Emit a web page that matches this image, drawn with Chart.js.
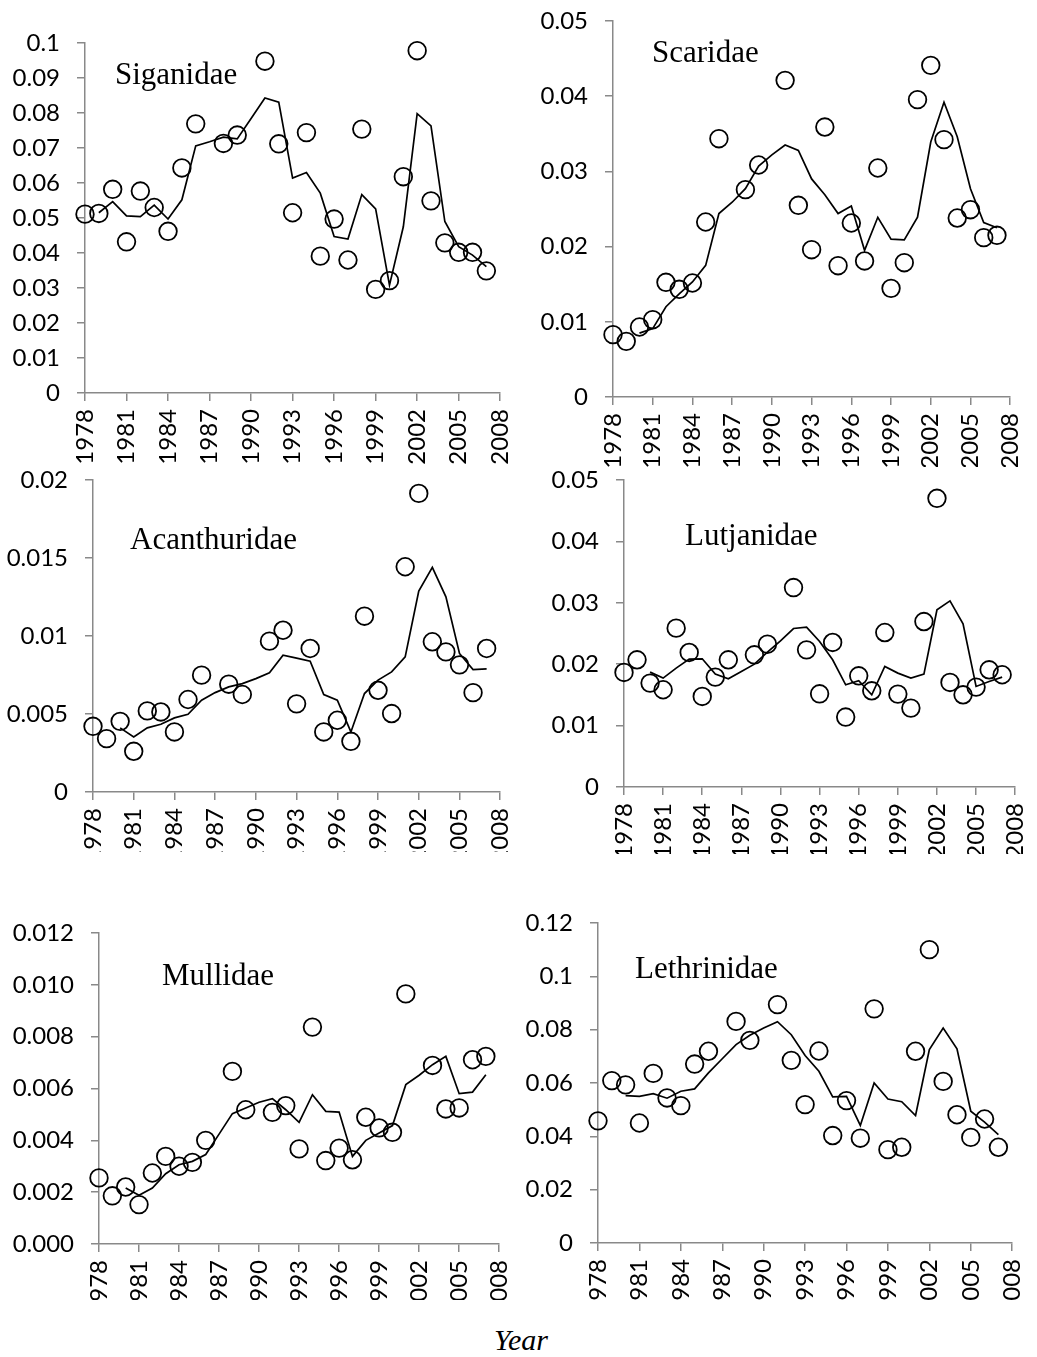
<!DOCTYPE html>
<html>
<head>
<meta charset="utf-8">
<script src="https://cdn.jsdelivr.net/npm/chart.js@4.4.0/dist/chart.umd.min.js"></script>
<style>
  html, body { margin: 0; padding: 0; background: #fff; }
  #page { position: relative; width: 1037px; height: 1357px; overflow: hidden; }
  #page canvas { position: absolute; }
  #xtitle { position: absolute; left: 494px; top: 1325px; font: italic 30px "Liberation Serif"; line-height: 30px; color: #000; }
</style>
</head>
<body>
<div id="page">
  <div id="xtitle">Year</div>
</div>
<script>
// survey years, 1978-2007 (no sampling in 1987 and 1990)
const years = [1978, 1979, 1980, 1981, 1982, 1983, 1984, 1985, 1986, 1987,
  1988, 1989, 1990, 1991, 1992, 1993, 1994, 1995, 1996, 1997,
  1998, 1999, 2000, 2001, 2002, 2003, 2004, 2005, 2006, 2007];
const yearTicks = ['1978', '1981', '1984', '1987', '1990', '1993', '1996', '1999', '2002', '2005', '2008'];

const siganidaeObs = [0.0511, 0.0513, 0.0582, 0.0432, 0.0577, 0.0530, 0.0462, 0.0643, 0.0769, null,
  0.0713, 0.0737, null, 0.0948, 0.0712, 0.0515, 0.0744, 0.0391, 0.0497, 0.0380,
  0.0754, 0.0296, 0.0321, 0.0618, 0.0978, 0.0549, 0.0429, 0.0402, 0.0402, 0.0349];
const siganidaeTrend = [null, 0.0515, 0.0547, 0.0506, 0.0504, 0.0537, 0.0497, 0.0552, 0.0706, 0.0718,
  0.0731, 0.0726, 0.0784, 0.0843, 0.0831, 0.0614, 0.0630, 0.0571, 0.0447, 0.0440,
  0.0567, 0.0526, 0.0308, 0.0475, 0.0798, 0.0763, 0.0490, 0.0418, 0.0394, 0.0361];
const siganidaeTicks = ['0', '0.01', '0.02', '0.03', '0.04', '0.05', '0.06', '0.07', '0.08', '0.09', '0.1'];

const scaridaeObs = [0.00829, 0.00740, 0.00931, 0.01028, 0.01525, 0.01432, 0.01516, 0.02327, 0.03435, null,
  0.02757, 0.03085, null, 0.04211, 0.02549, 0.01959, 0.03590, 0.01746, 0.02314, 0.01809,
  0.03045, 0.01445, 0.01786, 0.03954, 0.04410, 0.03422, 0.02380, 0.02491, 0.02119, 0.02150];
const scaridaeTrend = [null, null, 0.0085, 0.0091, 0.0120, 0.0137, 0.0153, 0.0175, 0.0244, 0.0259,
  0.0277, 0.0307, 0.0322, 0.0335, 0.0328, 0.0290, 0.0269, 0.0244, 0.0254, 0.0195,
  0.0239, 0.0210, 0.0209, 0.0239, 0.0339, 0.0392, 0.0346, 0.0277, 0.0232, 0.0225];
const scaridaeTicks = ['0', '0.01', '0.02', '0.03', '0.04', '0.05'];

const acanthuridaeObs = [0.00421, 0.00342, 0.00453, 0.00261, 0.00520, 0.00513, 0.00385, 0.00593, 0.00749, null,
  0.00691, 0.00625, null, 0.00967, 0.01037, 0.00565, 0.00920, 0.00385, 0.00460, 0.00325,
  0.01127, 0.00652, 0.00503, 0.01444, 0.01914, 0.00963, 0.00898, 0.00815, 0.00637, 0.00920];
const acanthuridaeTrend = [null, null, 0.00411, 0.00353, 0.00411, 0.00434, 0.00475, 0.00498, 0.00588, 0.00637,
  0.00674, 0.00695, 0.00727, 0.00764, 0.00877, 0.00858, 0.00839, 0.00625, 0.00588, 0.00385,
  0.00631, 0.00717, 0.00770, 0.00866, 0.01288, 0.01440, 0.01251, 0.00888, 0.00785, 0.00789];
const acanthuridaeTicks = ['0', '0.005', '0.01', '0.015', '0.02'];

const lutjanidaeObs = [0.01866, 0.02072, 0.01692, 0.01584, 0.02587, 0.02191, 0.01475, 0.01790, 0.02072, null,
  0.02153, 0.02326, null, 0.03248, 0.02234, 0.01518, 0.02354, 0.01139, 0.01811, 0.01567,
  0.02516, 0.01513, 0.01285, 0.02695, 0.04702, 0.01703, 0.01502, 0.01627, 0.01909, 0.01828];
const lutjanidaeTrend = [null, null, 0.01871, 0.01773, 0.01936, 0.02082, 0.02088, 0.01838, 0.01762, 0.01882,
  0.02001, 0.02196, 0.02381, 0.02581, 0.02603, 0.02370, 0.02072, 0.01665, 0.01730, 0.01502,
  0.01963, 0.01855, 0.01773, 0.01838, 0.02885, 0.03031, 0.02657, 0.01638, 0.01719, 0.01790];
const lutjanidaeTicks = ['0', '0.01', '0.02', '0.03', '0.04', '0.05'];

const mullidaeObs = [0.00255, 0.00186, 0.00220, 0.00152, 0.00274, 0.00338, 0.00300, 0.00315, 0.00400, null,
  0.00666, 0.00518, null, 0.00508, 0.00534, 0.00367, 0.00837, 0.00322, 0.00370, 0.00325,
  0.00489, 0.00448, 0.00431, 0.00965, null, 0.00689, 0.00521, 0.00525, 0.00711, 0.00724];
const mullidaeTrend = [null, null, 0.00216, 0.00188, 0.00216, 0.00271, 0.00306, 0.00319, 0.00345, 0.00424,
  0.00503, 0.00525, 0.00547, 0.00561, 0.00518, 0.00469, 0.00576, 0.00512, 0.00509, 0.00338,
  0.00400, 0.00428, 0.00457, 0.00615, 0.00651, 0.00692, 0.00724, 0.00580, 0.00586, 0.00653];
const mullidaeTicks = ['0.000', '0.002', '0.004', '0.006', '0.008', '0.010', '0.012'];

const lethrinidaeObs = [0.0458, 0.0609, 0.0593, 0.0450, 0.0636, 0.0544, 0.0515, 0.0671, 0.0719, null,
  0.0831, 0.0760, null, 0.0894, 0.0685, 0.0519, 0.0720, 0.0403, 0.0534, 0.0393,
  0.0878, 0.0350, 0.0359, 0.0719, 0.1100, 0.0606, 0.0481, 0.0396, 0.0465, 0.0359];
const lethrinidaeTrend = [null, null, 0.0553, 0.0550, 0.0560, 0.0543, 0.0569, 0.0578, 0.0638, 0.0691,
  0.0744, 0.0779, 0.0806, 0.0830, 0.0781, 0.0703, 0.0644, 0.0548, 0.0550, 0.0441,
  0.0600, 0.0540, 0.0530, 0.0478, 0.0725, 0.0806, 0.0728, 0.0494, 0.0453, 0.0406];
const lethrinidaeTicks = ['0', '0.02', '0.04', '0.06', '0.08', '0.1', '0.12'];

// panel frames: plot area box, left edge of the canvas, where the year labels get cut off
const panels = [
  { name: 'Siganidae', obs: siganidaeObs, trend: siganidaeTrend, ticks: siganidaeTicks, max: 0.1,
    area: { l: 85, t: 43, r: 507, b: 393 }, canvasLeft: 0, clip: 470, label: { dx: 30, dy: 41 } },
  { name: 'Scaridae', obs: scaridaeObs, trend: scaridaeTrend, ticks: scaridaeTicks, max: 0.05,
    area: { l: 613, t: 21, r: 1017, b: 397 }, canvasLeft: 510, clip: 467, label: { dx: 39, dy: 41 } },
  { name: 'Acanthuridae', obs: acanthuridaeObs, trend: acanthuridaeTrend, ticks: acanthuridaeTicks, max: 0.02,
    area: { l: 93, t: 480, r: 507, b: 792 }, canvasLeft: 0, clip: 852, label: { dx: 37, dy: 69 } },
  { name: 'Lutjanidae', obs: lutjanidaeObs, trend: lutjanidaeTrend, ticks: lutjanidaeTicks, max: 0.05,
    area: { l: 624, t: 480, r: 1022, b: 787 }, canvasLeft: 510, clip: 854, label: { dx: 61, dy: 65 } },
  { name: 'Mullidae', obs: mullidaeObs, trend: mullidaeTrend, ticks: mullidaeTicks, max: 0.012,
    area: { l: 99, t: 933, r: 506, b: 1244 }, canvasLeft: 0, clip: 1300, label: { dx: 63, dy: 52 } },
  { name: 'Lethrinidae', obs: lethrinidaeObs, trend: lethrinidaeTrend, ticks: lethrinidaeTicks, max: 0.12,
    area: { l: 598, t: 923, r: 1019, b: 1243 }, canvasLeft: 510, clip: 1300, label: { dx: 37, dy: 55 } }
];

// family name written inside the plot area
const familyLabel = {
  id: 'familyLabel',
  afterDatasetsDraw(chart, args, opts) {
    const { ctx, chartArea } = chart;
    ctx.save();
    ctx.font = '31px "Liberation Serif"';
    ctx.fillStyle = '#000';
    ctx.textBaseline = 'alphabetic';
    ctx.fillText(opts.text, chartArea.left + opts.dx, chartArea.top + opts.dy);
    ctx.restore();
  }
};

const axisGrey = '#898989';
const tickFont = { family: 'Lato', size: 24 };
const page = document.getElementById('page');

function makePanel(p) {
  const padTop = 36, padRight = 30;
  const left = p.canvasLeft;
  const top = p.area.t - padTop;
  const width = p.area.r + padRight - left;
  const height = p.clip - top;

  const canvas = document.createElement('canvas');
  canvas.width = width;
  canvas.height = height;
  canvas.style.left = left + 'px';
  canvas.style.top = top + 'px';
  canvas.style.width = width + 'px';
  canvas.style.height = height + 'px';
  page.appendChild(canvas);

  new Chart(canvas, {
    type: 'line',
    data: {
      labels: years,
      datasets: [{
        label: p.name,
        data: p.obs,
        showLine: false,
        pointStyle: 'circle',
        pointRadius: 8.8,
        pointBorderWidth: 1.8,
        pointBorderColor: '#000',
        pointBackgroundColor: 'rgba(0,0,0,0)',
        clip: false
      }, {
        label: p.name + ' trend',
        data: p.trend,
        borderColor: '#000',
        borderWidth: 1.7,
        pointRadius: 0,
        tension: 0,
        fill: false,
        clip: false
      }]
    },
    options: {
      responsive: false,
      animation: false,
      layout: { padding: { top: padTop, right: padRight, left: 0, bottom: 0 } },
      plugins: {
        legend: { display: false },
        tooltip: { enabled: false },
        familyLabel: { text: p.name, dx: p.label.dx, dy: p.label.dy }
      },
      scales: {
        x: {
          type: 'linear',
          min: 1978,
          max: 2008,
          afterFit: (scale) => { scale.height = p.clip - p.area.b; },
          grid: { drawOnChartArea: false, drawTicks: true, tickLength: 8, color: axisGrey, lineWidth: 1.5 },
          border: { display: true, color: axisGrey, width: 1.5 },
          ticks: {
            count: yearTicks.length,
            autoSkip: false,
            minRotation: 90,
            maxRotation: 90,
            padding: 8,
            color: '#000',
            font: tickFont,
            callback: (value, index) => yearTicks[index]
          }
        },
        y: {
          min: 0,
          max: p.max,
          afterFit: (scale) => { scale.width = p.area.l - left; },
          grid: { drawOnChartArea: false, drawTicks: true, tickLength: 8, color: axisGrey, lineWidth: 1.5 },
          border: { display: true, color: axisGrey, width: 1.5 },
          ticks: {
            count: p.ticks.length,
            padding: 17,
            color: '#000',
            font: tickFont,
            callback: (value, index) => p.ticks[index]
          }
        }
      }
    },
    plugins: [familyLabel]
  });
}

panels.forEach(makePanel);
</script>
</body>
</html>
